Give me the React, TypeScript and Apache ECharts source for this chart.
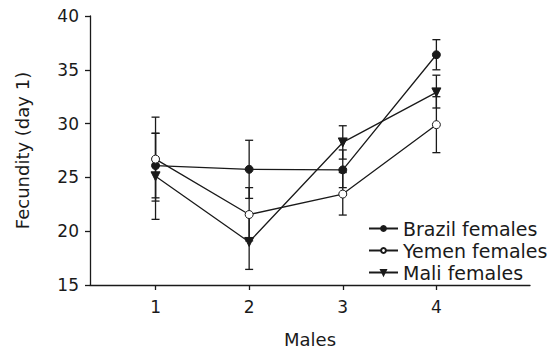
import React, { useEffect, useRef } from "react";
import * as echarts from "echarts";

const males = [1, 2, 3, 4];
const yTicks = [15, 20, 25, 30, 35, 40];

const brazil = [26.1, 25.75, 25.7, 36.4];
const brazilLow = [23.1, 23.05, 24.05, 35.0];
const brazilHigh = [29.1, 28.45, 27.55, 37.8];

const yemen = [26.7, 21.55, 23.45, 29.9];
const yemenLow = [22.8, 19.1, 21.5, 27.3];
const yemenHigh = [30.6, 24.05, 25.45, 32.5];

const mali = [25.1, 19.0, 28.25, 32.9];
const maliLow = [21.1, 16.45, 26.7, 31.45];
const maliHigh = [29.1, 21.6, 29.8, 34.5];

const INK = "#1a1a1a";
const FONT = "'DejaVu Sans', 'Liberation Sans', Arial, sans-serif";
const TRI = "path://M0,0 L10,0 L5,9 Z";

function errData(low: number[], high: number[]) {
  return males.map((m, i) => [m, low[i], high[i]]);
}

function lineData(vals: number[]) {
  return males.map((m, i) => [m, vals[i]]);
}

const renderErr = (params: any, api: any) => {
  const x = api.value(0);
  const lo = api.coord([x, api.value(1)]);
  const hi = api.coord([x, api.value(2)]);
  const w = 4;
  const style = { stroke: INK, lineWidth: 1.3 };
  return {
    type: "group",
    children: [
      { type: "line", shape: { x1: lo[0], y1: lo[1], x2: hi[0], y2: hi[1] }, style },
      { type: "line", shape: { x1: lo[0] - w, y1: lo[1], x2: lo[0] + w, y2: lo[1] }, style },
      { type: "line", shape: { x1: hi[0] - w, y1: hi[1], x2: hi[0] + w, y2: hi[1] }, style },
    ],
  };
};

export default function App() {
  const ref = useRef<HTMLDivElement>(null);
  useEffect(() => {
    if (!ref.current) return;
    const chart = echarts.init(ref.current, undefined, { renderer: "svg" });
    const errSeries = (low: number[], high: number[]) => ({
      type: "custom",
      renderItem: renderErr,
      data: errData(low, high),
      encode: { x: 0, y: [1, 2] },
      z: 1,
      silent: true,
    });
    const lineSeries = (name: string, vals: number[], symbol: string, fill: string, size: number) => ({
      type: "line",
      name,
      data: lineData(vals),
      symbol,
      symbolSize: size,
      showAllSymbol: true,
      lineStyle: { color: INK, width: 1.3 },
      itemStyle: { color: fill, borderColor: INK, borderWidth: 1 },
      z: 3,
    });
    chart.setOption({
      animation: false,
      backgroundColor: "#fff",
      textStyle: { fontFamily: FONT },
      grid: { left: 90, right: 19, top: 16, bottom: 66, containLabel: false, outerBoundsMode: "none" },
      legend: {
        orient: "vertical",
        left: 363,
        top: 214,
        itemWidth: 29,
        itemHeight: 6,
        itemGap: 3,
        selectedMode: false,
        textStyle: { fontSize: 19, color: INK, fontFamily: FONT, lineHeight: 19 },
        data: ["Brazil females", "Yemen females", "Mali females"],
      },
      xAxis: {
        type: "value",
        min: 0.3,
        max: 5,
        name: "Males",
        nameLocation: "middle",
        nameGap: 45,
        nameTextStyle: { fontSize: 18, color: INK, fontFamily: FONT },
        axisLine: { show: true, lineStyle: { color: INK, width: 1.3 } },
        axisTick: { show: true, length: 5, lineStyle: { color: INK, width: 1.3 }, customValues: males },
        axisLabel: { fontSize: 17, color: INK, margin: 13, fontFamily: FONT, customValues: males },
        splitLine: { show: false },
      },
      yAxis: {
        type: "value",
        min: 15,
        max: 40,
        interval: 5,
        name: "Fecundity (day 1)",
        nameLocation: "middle",
        nameGap: 59,
        nameTextStyle: { fontSize: 18, color: INK, fontFamily: FONT },
        axisLine: { show: true, lineStyle: { color: INK, width: 1.3 } },
        axisTick: { show: true, length: 5, lineStyle: { color: INK, width: 1.3 } },
        axisLabel: {
          fontSize: 17,
          color: INK,
          margin: 11,
          fontFamily: FONT,
          formatter: (v: number) => (yTicks.includes(v) ? String(v) : ""),
        },
        splitLine: { show: false },
      },
      series: [
        errSeries(brazilLow, brazilHigh),
        errSeries(yemenLow, yemenHigh),
        errSeries(maliLow, maliHigh),
        lineSeries("Brazil females", brazil, "circle", INK, 8),
        lineSeries("Yemen females", yemen, "circle", "#ffffff", 8),
        lineSeries("Mali females", mali, TRI, INK, 9),
      ],
    });
    return () => chart.dispose();
  }, []);
  return (
    <div
      ref={ref}
      style={{ position: "fixed", left: 0, top: 0, width: 549, height: 351, background: "#fff" }}
    />
  );
}
